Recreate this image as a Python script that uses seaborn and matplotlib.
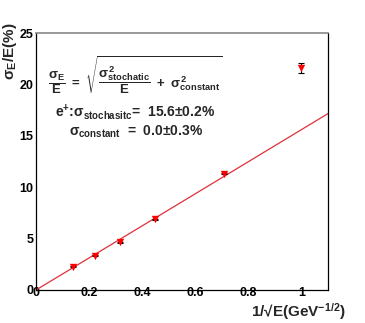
import numpy as np
import pandas as pd
import matplotlib
matplotlib.use("Agg")
import matplotlib.pyplot as plt
import seaborn as sns
from matplotlib.ticker import MultipleLocator

# data
inv_sqrt_e = [0.141, 0.224, 0.316, 0.447, 0.707, 1.0]
resolution = [2.25, 3.35, 4.65, 6.9, 11.3, 21.6]
res_err = [0.05, 0.05, 0.05, 0.05, 0.05, 0.5]
fit_x = [0.0, 1.1]
fit_slope = 15.6
xticks = [0, 0.2, 0.4, 0.6, 0.8, 1]
xticklabels = ["0", "0.2", "0.4", "0.6", "0.8", "1"]
yticks = [0, 5, 10, 15, 20, 25]

sns.set_theme(style="white")
plt.rcParams['font.family'] = ['Liberation Sans', 'DejaVu Sans']
plt.rcParams['mathtext.fontset'] = 'custom'
plt.rcParams['mathtext.rm'] = 'Liberation Sans:bold'
plt.rcParams['mathtext.it'] = 'Liberation Sans:bold'
plt.rcParams['mathtext.bf'] = 'Liberation Sans:bold'
plt.rcParams['mathtext.sf'] = 'Liberation Sans:bold'

df = pd.DataFrame({"x": inv_sqrt_e, "y": resolution, "err": res_err})
fit_df = pd.DataFrame({"x": fit_x, "y": [fit_slope * v for v in fit_x]})

fig = plt.figure(figsize=(3.65, 3.23), dpi=100)
ax = fig.add_axes([36/365, 1 - 290/323, (328-36)/365, (290-33)/323])

sns.lineplot(data=fit_df, x="x", y="y", ax=ax, color="#e0303a", lw=0.9)
ax.errorbar(df["x"], df["y"], yerr=df["err"], fmt="none", ecolor="black",
            elinewidth=0.8, capsize=2, capthick=0.8, zorder=3)
sns.scatterplot(data=df, x="x", y="y", ax=ax, marker="v", color="#ff0000",
                s=28, edgecolor="#ff0000", linewidth=0, zorder=4)

ax.set_xlim(0, 1.1)
ax.set_ylim(0, 25)
ax.set_xticks(xticks)
ax.set_xticklabels(xticklabels)
ax.set_yticks(yticks)
ax.xaxis.set_minor_locator(MultipleLocator(0.05))
ax.yaxis.set_minor_locator(MultipleLocator(1))
ax.tick_params(axis='both', which='both', direction='in', top=False, right=False,
               colors='#444444', labelcolor='black')
ax.tick_params(axis='x', which='major', length=7, width=0.8, pad=-2)
ax.tick_params(axis='x', which='minor', length=4, width=0.8)
ax.tick_params(axis='y', which='major', length=8, width=0.8, pad=2)
ax.tick_params(axis='y', which='minor', length=4, width=0.8)
for lab in ax.get_xticklabels() + ax.get_yticklabels():
    lab.set_fontweight('bold')
    lab.set_fontsize(9)
for side in ['left', 'bottom', 'right']:
    ax.spines[side].set_color('black')
    ax.spines[side].set_linewidth(0.9)
ax.spines['top'].set_color('#888888')
ax.spines['top'].set_linewidth(1.2)

ax.set_xlabel("")
ax.set_ylabel("")
fig.text(346/365, 1 - 322/323, "1/\u221aE(GeV$^{-1/2}$)",
         ha='right', va='bottom', fontsize=11, fontweight='bold')
fig.text(1/365, 1 - 22/323, r"$\mathbf{\sigma_E/E(\%)}$", rotation=90,
         ha='left', va='top', fontsize=11)

ax.text(0.045, 20.9, r"$\dfrac{\sigma_E}{E}\ =\ \sqrt{\dfrac{\sigma^2_{stochatic}}{E}\ +\ \sigma^2_{constant}}$",
        ha='left', va='center', fontsize=9.5)
ax.text(0.072, 17.3, r"e$^{+}$:$\sigma_{stochasitc}$=  15.6$\pm$0.2%",
        ha='left', va='center', fontsize=10, fontweight='bold')
ax.text(0.125, 15.4, r"$\sigma_{constant}$  =  0.0$\pm$0.3%",
        ha='left', va='center', fontsize=10, fontweight='bold')

fig.savefig("out.png", dpi=100)
